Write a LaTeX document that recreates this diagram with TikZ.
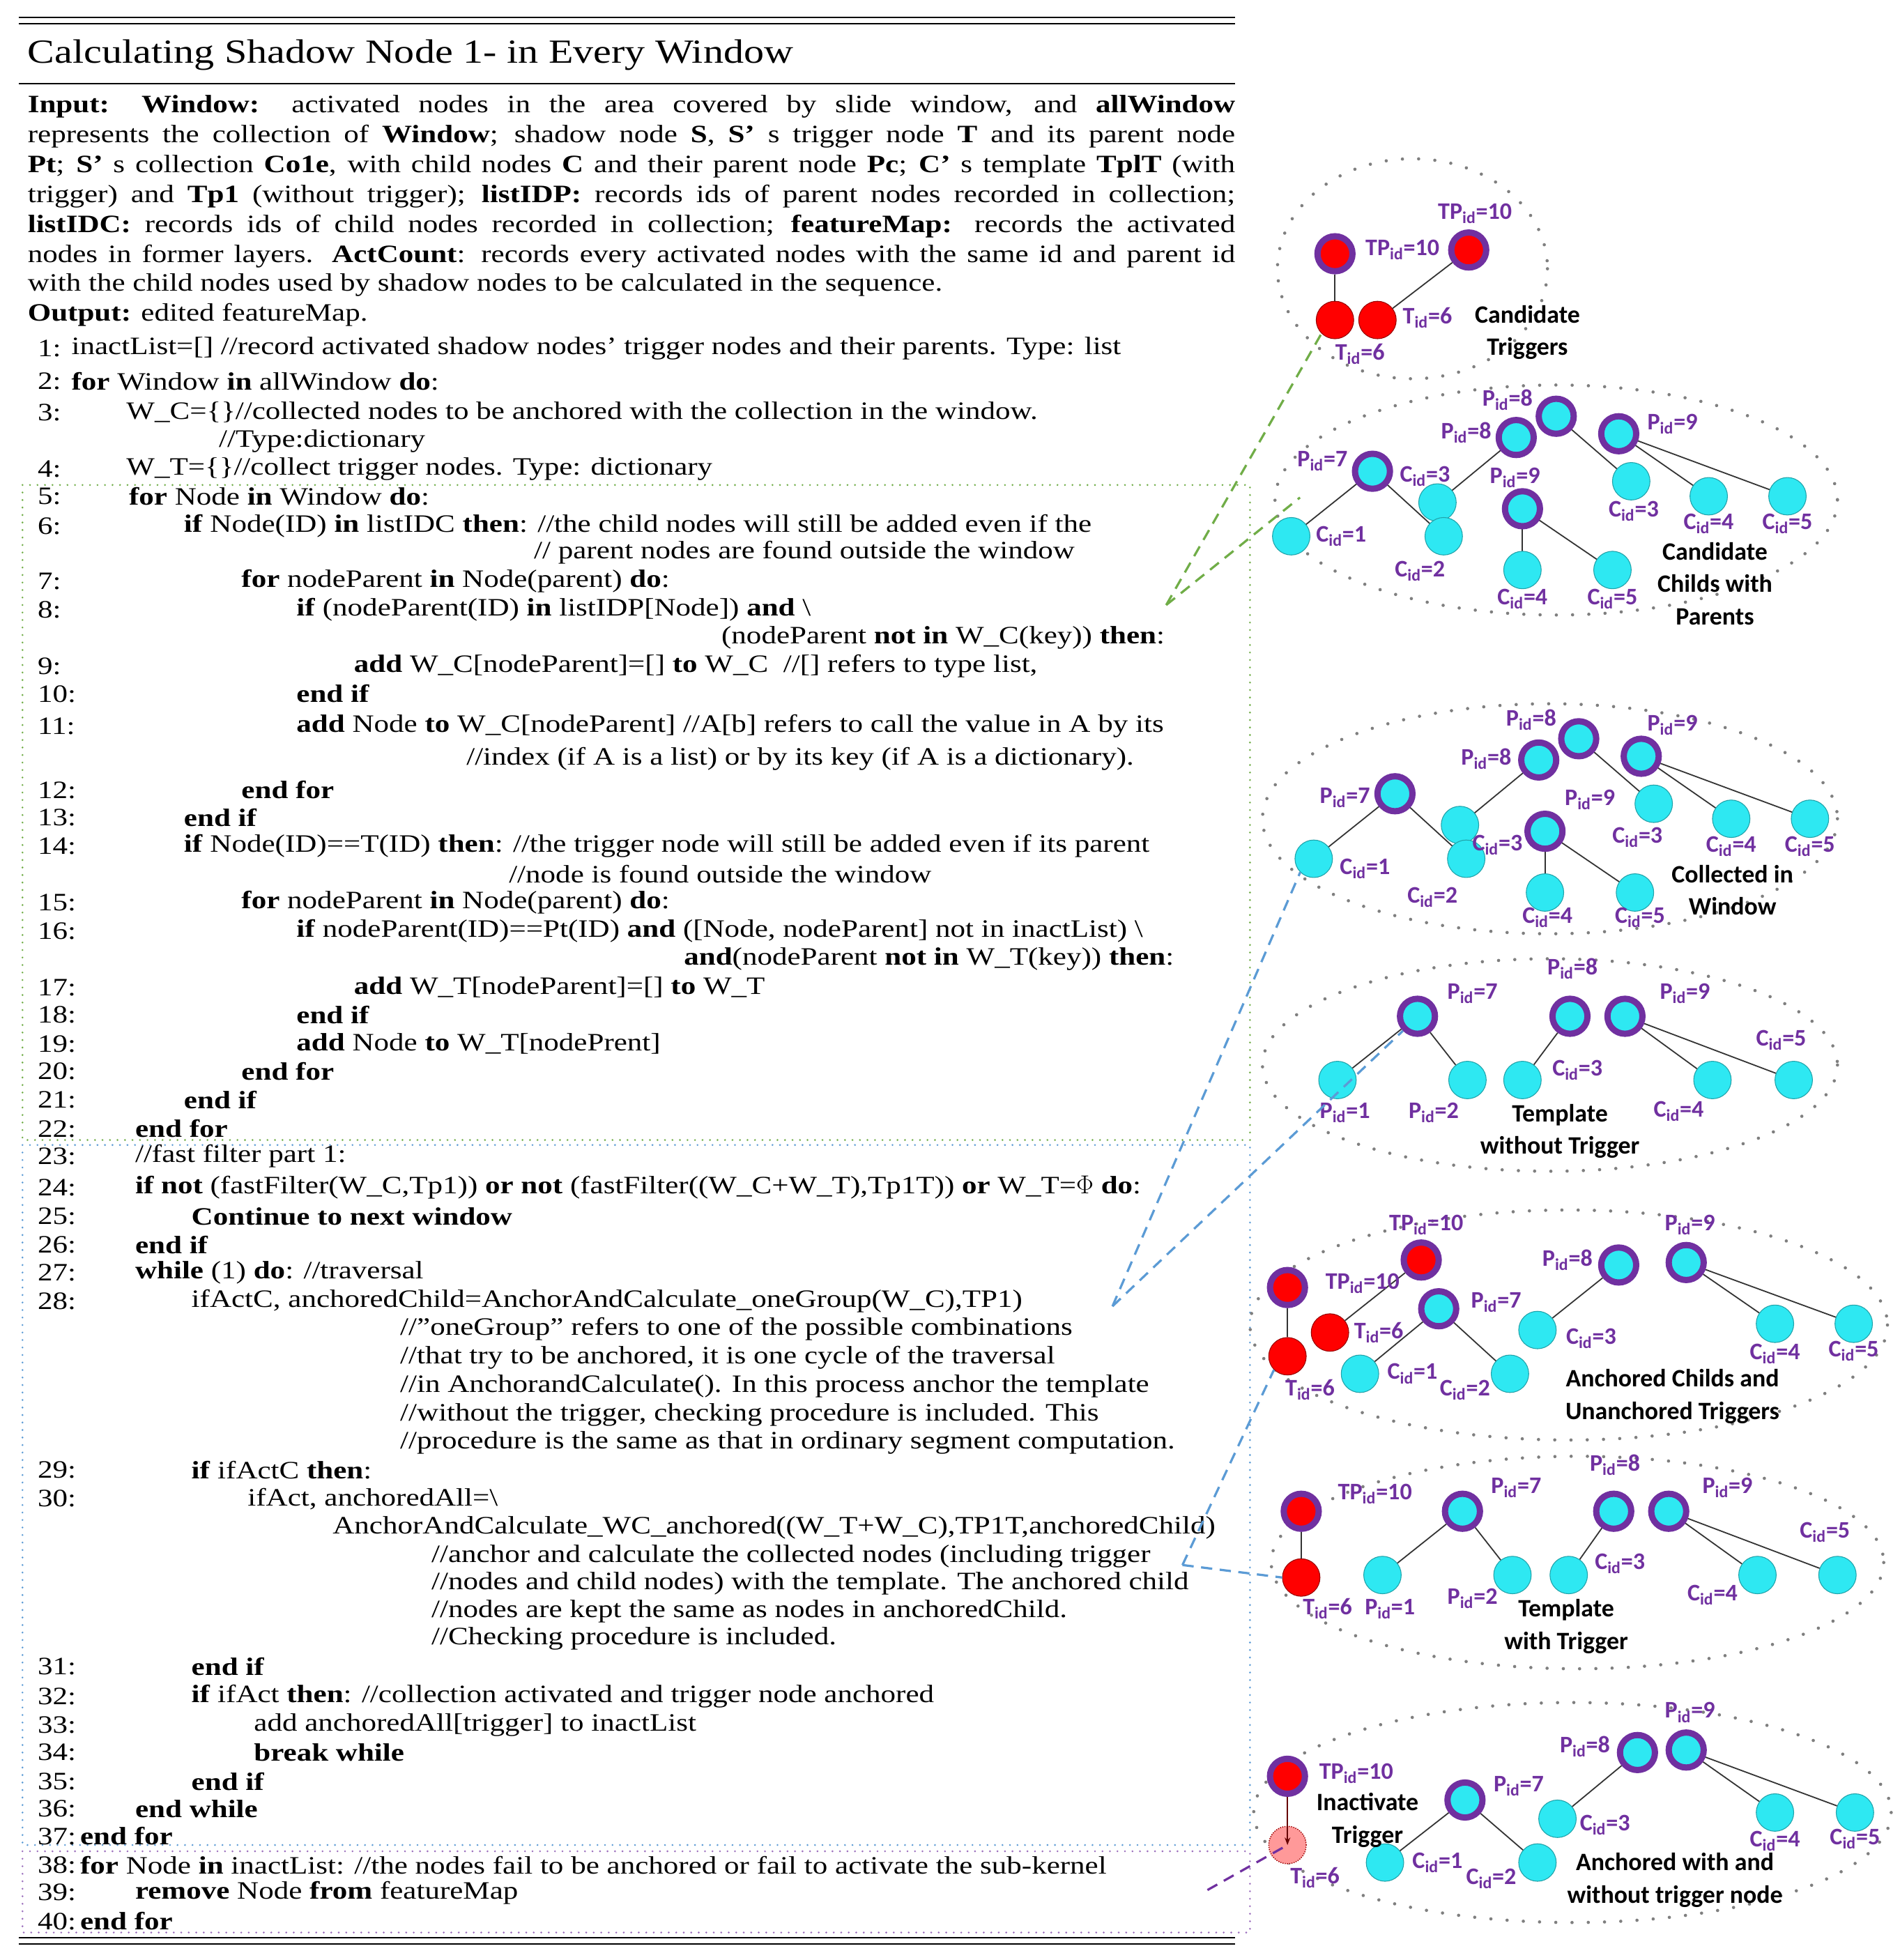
\documentclass[tikz,border=0pt]{standalone}
\usepackage{fontspec}
\setmainfont{Liberation Serif}[FakeStretch=1.2]
\newfontfamily\lblfont{Carlito}
\usetikzlibrary{arrows.meta}
\definecolor{pur}{HTML}{7030A0}
\definecolor{cy}{HTML}{2EE8F2}
\definecolor{gr}{HTML}{70AD47}
\definecolor{bl}{HTML}{5B9BD5}
\definecolor{dots}{HTML}{7F7F7F}
\newcommand\idl[2]{#1\textsubscript{id}=#2}
\begin{document}
\begin{tikzpicture}[x=1pt,y=-1pt,
  code/.style={anchor=west,inner sep=0pt,font=\fontsize{20}{23}\selectfont},
  par/.style={circle,minimum size=28pt,inner sep=0pt,fill=cy,draw=pur,line width=5pt},
  tpar/.style={circle,minimum size=28pt,inner sep=0pt,fill=red,draw=pur,line width=5pt},
  chi/.style={circle,minimum size=30pt,inner sep=0pt,fill=cy,draw=cy!70!black,line width=0.6pt},
  trg/.style={circle,minimum size=30pt,inner sep=0pt,fill=red,draw=red!60!black,line width=0.6pt},
  edge/.style={draw=black!80,line width=1pt},
  lbl/.style={inner sep=0pt,text=pur,font=\lblfont\bfseries\fontsize{19}{20}\selectfont},
  captxt/.style={inner sep=0pt,align=center,font=\lblfont\bfseries\fontsize{20}{26}\selectfont},
  grp/.style={draw=dots,line width=2.6pt,line cap=round,dash pattern=on 0pt off 13pt},
  box/.style={line width=1.6pt,line cap=round,dash pattern=on 0pt off 6pt},
  link/.style={line width=1.8pt,dash pattern=on 9pt off 6pt}]
\useasboundingbox (0,0) rectangle (1520,1568);
\fill[white] (0,0) rectangle (1520,1568);
% rules
\draw[line width=1.3pt] (15,14) -- (988,14);
\draw[line width=1.3pt] (15,19) -- (988,19);
\draw[line width=1.2pt] (15,67) -- (988,67);
\draw[line width=1.3pt] (15,1550) -- (988,1550);
\draw[line width=1.3pt] (15,1555) -- (988,1555);
\node[anchor=west,inner sep=0pt,font=\fontsize{27}{30}\selectfont] (title) at (22,44) {Calculating Shadow Node 1- in Every Window};
% dotted boxes
\draw[box,draw=gr] (18,388) rectangle (1000,912);
\draw[box,draw=bl] (18,916) rectangle (1000,1476);
\draw[box,draw=pur!70] (18,1481) rectangle (1000,1546);
% input paragraph
\begin{scope}[every node/.style={code}]
\node at (22,85) {\makebox[966pt][s]{\textbf{Input:} \textbf{Window:} activated nodes in the area covered by slide window, and \textbf{allWindow}}};
\node at (22,109) {\makebox[966pt][s]{represents the collection of \textbf{Window}; shadow node \textbf{S}, \textbf{S'} s trigger node \textbf{T} and its parent node}};
\node at (22,133) {\makebox[966pt][s]{\textbf{Pt}; \textbf{S'} s collection \textbf{Co1e}, with child nodes \textbf{C} and their parent node \textbf{Pc}; \textbf{C'} s template \textbf{TplT} (with}};
\node at (22,157) {\makebox[966pt][s]{trigger) and \textbf{Tp1} (without trigger); \textbf{listIDP:} records ids of parent nodes recorded in collection;}};
\node at (22,181) {\makebox[966pt][s]{\textbf{listIDC:} records ids of child nodes recorded in collection; \textbf{featureMap:} records the activated}};
\node at (22,205) {\makebox[966pt][s]{nodes in former layers. \textbf{ActCount}: records every activated nodes with the same id and parent id}};
\node at (22,228) {with the child nodes used by shadow nodes to be calculated in the sequence.};
\node at (22,252) {\textbf{Output:} edited featureMap.};
% numbers
\foreach \n/\y in {1/279,2/305,3/330,4/375,5/397,6/421,7/465,8/488,9/533,10/555,11/581,12/632,13/654,14/677,15/722,16/745,17/790,18/812,19/835,20/857,21/880,22/903,23/925,24/950,25/973,26/996,27/1018,28/1041,29/1176,30/1199,31/1333,32/1357,33/1380,34/1402,35/1425,36/1447,37/1469,38/1492,39/1514,40/1537}
  \node at (30,\y) {\n:};
\node at (57,279) {inactList=[] //record activated shadow nodes' trigger nodes and their parents. Type: list};
\node at (57,305) {\textbf{for} Window \textbf{in} allWindow \textbf{do}:};
\node at (101,330) {W\_C=\{\}//collected nodes to be anchored with the collection in the window.};
\node at (175,353) {//Type:dictionary};
\node at (101,375) {W\_T=\{\}//collect trigger nodes. Type: dictionary};
\node at (103,397) {\textbf{for} Node \textbf{in} Window \textbf{do}:};
\node at (147,421) {\textbf{if} Node(ID) \textbf{in} listIDC \textbf{then}: //the child nodes will still be added even if the};
\node at (427,442) {// parent nodes are found outside the window};
\node at (193,465) {\textbf{for} nodeParent \textbf{in} Node(parent) \textbf{do}:};
\node at (237,488) {\textbf{if} (nodeParent(ID) \textbf{in} listIDP[Node]) \textbf{and} \textbackslash};
\node at (577,510) {(nodeParent \textbf{not in} W\_C(key)) \textbf{then}:};
\node at (283,533) {\textbf{add} W\_C[nodeParent]=[] \textbf{to} W\_C~~//[] refers to type list,};
\node at (237,555) {\textbf{end if}};
\node at (237,581) {\textbf{add} Node \textbf{to} W\_C[nodeParent] //A[b] refers to call the value in A by its};
\node at (373,607) {//index (if A is a list) or by its key (if A is a dictionary).};
\node at (193,632) {\textbf{end for}};
\node at (147,654) {\textbf{end if}};
\node at (147,677) {\textbf{if} Node(ID)==T(ID) \textbf{then}: //the trigger node will still be added even if its parent};
\node at (407,699) {//node is found outside the window};
\node at (193,722) {\textbf{for} nodeParent \textbf{in} Node(parent) \textbf{do}:};
\node at (237,745) {\textbf{if} nodeParent(ID)==Pt(ID) \textbf{and} ([Node, nodeParent] not in inactList) \textbackslash};
\node at (547,767) {\textbf{and}(nodeParent \textbf{not in} W\_T(key)) \textbf{then}:};
\node at (283,790) {\textbf{add} W\_T[nodeParent]=[] \textbf{to} W\_T};
\node at (237,812) {\textbf{end if}};
\node at (237,835) {\textbf{add} Node \textbf{to} W\_T[nodePrent]};
\node at (193,857) {\textbf{end for}};
\node at (147,880) {\textbf{end if}};
\node at (108,903) {\textbf{end for}};
\node at (108,925) {//fast filter part 1:};
\node at (108,950) {\textbf{if not} (fastFilter(W\_C,Tp1)) \textbf{or not} (fastFilter((W\_C+W\_T),Tp1T)) \textbf{or} W\_T=$\Phi$ \textbf{do}:};
\node at (153,973) {\textbf{Continue to next window}};
\node at (108,996) {\textbf{end if}};
\node at (108,1018) {\textbf{while} (1) \textbf{do}: //traversal};
\node at (153,1041) {ifActC, anchoredChild=AnchorAndCalculate\_oneGroup(W\_C),TP1)};
\node at (320,1063) {//"oneGroup" refers to one of the possible combinations};
\node at (320,1086) {//that try to be anchored, it is one cycle of the traversal};
\node at (320,1109) {//in AnchorandCalculate(). In this process anchor the template};
\node at (320,1132) {//without the trigger, checking procedure is included. This};
\node at (320,1154) {//procedure is the same as that in ordinary segment computation.};
\node at (153,1176) {\textbf{if} ifActC \textbf{then}:};
\node at (198,1199) {ifAct, anchoredAll=\textbackslash};
\node at (266,1222) {AnchorAndCalculate\_WC\_anchored((W\_T+W\_C),TP1T,anchoredChild)};
\node at (345,1245) {//anchor and calculate the collected nodes (including trigger};
\node at (345,1267) {//nodes and child nodes) with the template. The anchored child};
\node at (345,1289) {//nodes are kept the same as nodes in anchoredChild.};
\node at (345,1311) {//Checking procedure is included.};
\node at (153,1333) {\textbf{end if}};
\node at (153,1357) {\textbf{if} ifAct \textbf{then}: //collection activated and trigger node anchored};
\node at (203,1380) {add anchoredAll[trigger] to inactList};
\node at (203,1402) {\textbf{break while}};
\node at (153,1425) {\textbf{end if}};
\node at (108,1447) {\textbf{end while}};
\node at (64,1469) {\textbf{end for}};
\node at (64,1492) {\textbf{for} Node \textbf{in} inactList: //the nodes fail to be anchored or fail to activate the sub-kernel};
\node at (108,1514) {\textbf{remove} Node \textbf{from} featureMap};
\node at (64,1537) {\textbf{end for}};
\end{scope}
% ---------- group ellipses
\draw[grp] (1130,215) ellipse [x radius=108,y radius=88];
\draw[grp] (1245,400) ellipse [x radius=225,y radius=92];
\draw[grp] (1240,655) ellipse [x radius=230,y radius=92];
\draw[grp] (1240,852) ellipse [x radius=230,y radius=85];
\draw[grp] (1255,1060) ellipse [x radius=255,y radius=92];
\draw[grp] (1262,1250) ellipse [x radius=245,y radius=85];
\draw[grp] (1258,1450) ellipse [x radius=255,y radius=88];
% ---------- group A: candidate triggers
\node[tpar] (aP1) at (1068,203) {};
\node[tpar] (aP2) at (1175,200) {};
\node[trg] (aT1) at (1068,256) {};
\node[trg] (aT2) at (1102,256) {};
\draw[edge] (aP1) -- (aT1);
\draw[edge] (aP2) -- (aT2);
\node[lbl] at (1122,200) {\idl{TP}{10}};
\node[lbl] at (1180,171) {\idl{TP}{10}};
\node[lbl] at (1142,254) {\idl{T}{6}};
\node[lbl] at (1088,283) {\idl{T}{6}};
\node[captxt] (aCap) at (1222,266) {Candidate\\Triggers};
% ---------- group B & C
\foreach \g/\dy/\dx in {b/0/0,c/258/18}{
\begin{scope}[shift={(\dx,\dy)}]
\coordinate (\g xP7) at (1098,377);
\coordinate (\g xC1) at (1033,429);
\coordinate (\g xC2) at (1155,429);
\coordinate (\g xP8a) at (1213,350);
\coordinate (\g xC3a) at (1150,402);
\coordinate (\g xP8b) at (1245,333);
\coordinate (\g xC3b) at (1305,385);
\coordinate (\g xP9a) at (1295,347);
\coordinate (\g xC4b) at (1367,397);
\coordinate (\g xC5b) at (1430,397);
\coordinate (\g xP9b) at (1218,407);
\coordinate (\g xC4a) at (1218,456);
\coordinate (\g xC5a) at (1290,456);
\end{scope}
\draw[edge] (\g xP7) -- (\g xC1);
\draw[edge] (\g xP7) -- (\g xC2);
\draw[edge] (\g xP8a) -- (\g xC3a);
\draw[edge] (\g xP8b) -- (\g xC3b);
\draw[edge] (\g xP9a) -- (\g xC4b);
\draw[edge] (\g xP9a) -- (\g xC5b);
\draw[edge] (\g xP9b) -- (\g xC4a);
\draw[edge] (\g xP9b) -- (\g xC5a);
\node[par] (\g P7) at (\g xP7) {};
\node[chi] (\g C1) at (\g xC1) {};
\node[chi] (\g C3a) at (\g xC3a) {};
\node[chi] (\g C2) at (\g xC2) {};
\node[par] (\g P8a) at (\g xP8a) {};
\node[par] (\g P8b) at (\g xP8b) {};
\node[par] (\g P9a) at (\g xP9a) {};
\node[par] (\g P9b) at (\g xP9b) {};
\node[chi] (\g C4a) at (\g xC4a) {};
\node[chi] (\g C5a) at (\g xC5a) {};
\node[chi] (\g C3b) at (\g xC3b) {};
\node[chi] (\g C4b) at (\g xC4b) {};
\node[chi] (\g C5b) at (\g xC5b) {};
}
\node[lbl] at (1058,369) {\idl{P}{7}};
\node[lbl] at (1140,381) {\idl{C}{3}};
\node[lbl] at (1173,346) {\idl{P}{8}};
\node[lbl] at (1206,320) {\idl{P}{8}};
\node[lbl] at (1338,339) {\idl{P}{9}};
\node[lbl] at (1212,382) {\idl{P}{9}};
\node[lbl] at (1073,429) {\idl{C}{1}};
\node[lbl] at (1136,457) {\idl{C}{2}};
\node[lbl] at (1218,479) {\idl{C}{4}};
\node[lbl] at (1290,479) {\idl{C}{5}};
\node[lbl] at (1307,409) {\idl{C}{3}};
\node[lbl] at (1367,419) {\idl{C}{4}};
\node[lbl] at (1430,419) {\idl{C}{5}};
\node[captxt] (bCap) at (1372,467) {Candidate\\Childs with\\Parents};
\node[lbl] at (1076,638) {\idl{P}{7}};
\node[lbl] at (1198,676) {\idl{C}{3}};
\node[lbl] at (1189,607) {\idl{P}{8}};
\node[lbl] at (1225,576) {\idl{P}{8}};
\node[lbl] at (1338,580) {\idl{P}{9}};
\node[lbl] at (1272,640) {\idl{P}{9}};
\node[lbl] at (1092,695) {\idl{C}{1}};
\node[lbl] at (1146,718) {\idl{C}{2}};
\node[lbl] at (1238,734) {\idl{C}{4}};
\node[lbl] at (1312,734) {\idl{C}{5}};
\node[lbl] at (1310,670) {\idl{C}{3}};
\node[lbl] at (1385,677) {\idl{C}{4}};
\node[lbl] at (1448,677) {\idl{C}{5}};
\node[captxt] (cCap) at (1386,712) {Collected in\\Window};
% ---------- group D: template without trigger
\node[par] (dP7) at (1134,813) {};
\node[par] (dP8) at (1256,813) {};
\node[par] (dP9) at (1300,813) {};
\node[chi] (dC1) at (1070,864) {};
\node[chi] (dC2) at (1174,864) {};
\node[chi] (dC3) at (1218,864) {};
\node[chi] (dC4) at (1370,864) {};
\node[chi] (dC5) at (1435,864) {};
\draw[edge] (dP7) -- (dC1); \draw[edge] (dP7) -- (dC2);
\draw[edge] (dP8) -- (dC3); \draw[edge] (dP9) -- (dC4); \draw[edge] (dP9) -- (dC5);
\node[lbl] at (1178,795) {\idl{P}{7}};
\node[lbl] at (1258,775) {\idl{P}{8}};
\node[lbl] at (1348,795) {\idl{P}{9}};
\node[lbl] at (1425,832) {\idl{C}{5}};
\node[lbl] at (1262,856) {\idl{C}{3}};
\node[lbl] at (1343,889) {\idl{C}{4}};
\node[lbl] at (1076,890) {\idl{P}{1}};
\node[lbl] at (1147,890) {\idl{P}{2}};
\node[captxt] (dCap) at (1248,905) {Template\\without Trigger};
% ---------- group E
\node[tpar] (eTP1) at (1030,1030) {};
\node[trg] (eT1) at (1030,1085) {};
\node[trg] (eT2) at (1064,1066) {};
\node[tpar] (eTP2) at (1137,1008) {};
\node[par] (eP7) at (1151,1047) {};
\node[chi] (eC1) at (1088,1099) {};
\node[chi] (eC2) at (1208,1099) {};
\node[chi] (eC3) at (1230,1064) {};
\node[par] (eP8) at (1295,1012) {};
\node[par] (eP9) at (1349,1010) {};
\node[chi] (eC4) at (1420,1059) {};
\node[chi] (eC5) at (1483,1059) {};
\draw[edge] (eTP1) -- (eT1); \draw[edge] (eT2) -- (eTP2);
\draw[edge] (eP7) -- (eC1); \draw[edge] (eP7) -- (eC2);
\draw[edge] (eP8) -- (eC3); \draw[edge] (eP9) -- (eC4); \draw[edge] (eP9) -- (eC5);
\node[lbl] at (1090,1027) {\idl{TP}{10}};
\node[lbl] at (1141,980) {\idl{TP}{10}};
\node[lbl] at (1103,1066) {\idl{T}{6}};
\node[lbl] at (1048,1112) {\idl{T}{6}};
\node[lbl] at (1197,1042) {\idl{P}{7}};
\node[lbl] at (1130,1099) {\idl{C}{1}};
\node[lbl] at (1172,1112) {\idl{C}{2}};
\node[lbl] at (1273,1071) {\idl{C}{3}};
\node[lbl] at (1254,1008) {\idl{P}{8}};
\node[lbl] at (1352,980) {\idl{P}{9}};
\node[lbl] at (1420,1083) {\idl{C}{4}};
\node[lbl] at (1483,1081) {\idl{C}{5}};
\node[captxt] (eCap) at (1338,1117) {Anchored Childs and\\Unanchored Triggers};
% ---------- group F
\node[tpar] (fTP) at (1041,1209) {};
\node[trg] (fT) at (1041,1262) {};
\node[par] (fP7) at (1170,1209) {};
\node[chi] (fC1) at (1106,1260) {};
\node[chi] (fC2) at (1210,1260) {};
\node[chi] (fC3) at (1255,1260) {};
\node[par] (fP8) at (1291,1209) {};
\node[par] (fP9) at (1335,1209) {};
\node[chi] (fC4) at (1406,1260) {};
\node[chi] (fC5) at (1470,1260) {};
\draw[edge] (fTP) -- (fT);
\draw[edge] (fP7) -- (fC1); \draw[edge] (fP7) -- (fC2);
\draw[edge] (fP8) -- (fC3); \draw[edge] (fP9) -- (fC4); \draw[edge] (fP9) -- (fC5);
\node[lbl] at (1100,1195) {\idl{TP}{10}};
\node[lbl] at (1062,1287) {\idl{T}{6}};
\node[lbl] at (1112,1287) {\idl{P}{1}};
\node[lbl] at (1178,1279) {\idl{P}{2}};
\node[lbl] at (1213,1190) {\idl{P}{7}};
\node[lbl] at (1292,1172) {\idl{P}{8}};
\node[lbl] at (1382,1190) {\idl{P}{9}};
\node[lbl] at (1296,1251) {\idl{C}{3}};
\node[lbl] at (1370,1276) {\idl{C}{4}};
\node[lbl] at (1460,1226) {\idl{C}{5}};
\node[captxt] (fCap) at (1253,1301) {Template\\with Trigger};
% ---------- group G
\node[tpar] (gTP) at (1030,1421) {};
\node[circle,minimum size=30pt,inner sep=0pt,fill=red!40,draw=red!60!black,densely dotted,line width=0.8pt] (gT) at (1030,1476) {};
\node[par] (gP7) at (1172,1440) {};
\node[chi] (gC1) at (1108,1490) {};
\node[chi] (gC2) at (1230,1490) {};
\node[chi] (gC3) at (1246,1455) {};
\node[par] (gP8) at (1310,1402) {};
\node[par] (gP9) at (1349,1400) {};
\node[chi] (gC4) at (1420,1450) {};
\node[chi] (gC5) at (1484,1450) {};
\draw[edge,-{Stealth[length=6pt]},draw=red!40!black] (gTP) -- (gT.center);
\draw[edge] (gP7) -- (gC1); \draw[edge] (gP7) -- (gC2);
\draw[edge] (gP8) -- (gC3); \draw[edge] (gP9) -- (gC4); \draw[edge] (gP9) -- (gC5);
\node[lbl] at (1085,1419) {\idl{TP}{10}};
\node[captxt] (gInact) at (1094,1456) {Inactivate\\Trigger};
\node[lbl] at (1052,1502) {\idl{T}{6}};
\node[lbl] at (1150,1490) {\idl{C}{1}};
\node[lbl] at (1193,1503) {\idl{C}{2}};
\node[lbl] at (1284,1460) {\idl{C}{3}};
\node[lbl] at (1215,1429) {\idl{P}{7}};
\node[lbl] at (1268,1397) {\idl{P}{8}};
\node[lbl] at (1352,1370) {\idl{P}{9}};
\node[lbl] at (1420,1473) {\idl{C}{4}};
\node[lbl] at (1484,1471) {\idl{C}{5}};
\node[captxt] (gCap) at (1340,1504) {Anchored with and\\without trigger node};
% ---------- dashed links
\coordinate (gs) at (933,484);
\coordinate (bs) at (890,1045);
\coordinate (bs2) at (946,1252);
\coordinate (ps) at (966,1512);
\draw[link,draw=gr] (gs) -- (aT1.south west);
\draw[link,draw=gr] (gs) -- (1040,398);
\draw[link,draw=bl] (bs) -- (cC1.south west);
\draw[link,draw=bl] (bs) -- (dP7.south west);
\draw[link,draw=bl] (bs2) -- (eT1.south west);
\draw[link,draw=bl] (bs2) -- (fT.west);
\draw[link,draw=pur] (ps) -- (gT.center);
\end{tikzpicture}
\end{document}
